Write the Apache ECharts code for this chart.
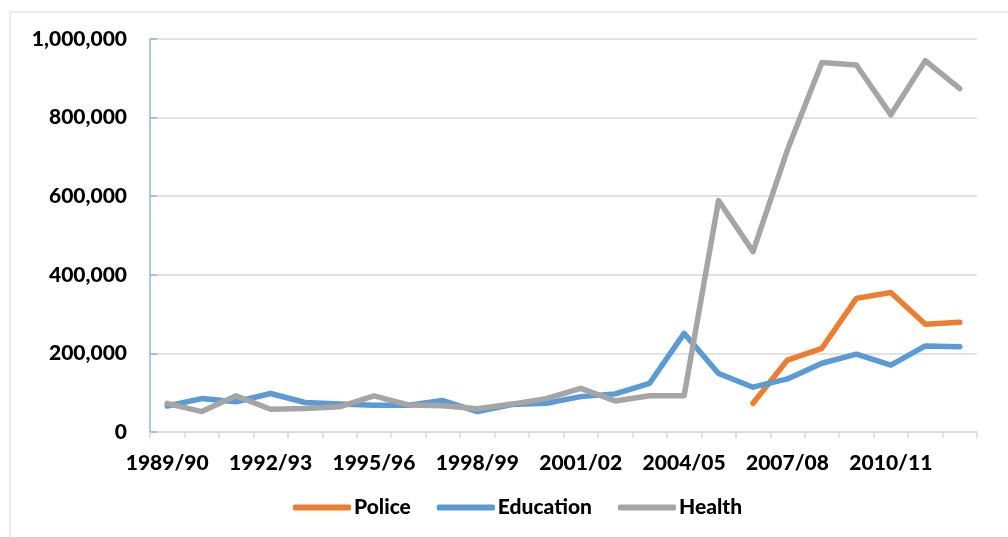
<!DOCTYPE html>
<html>
<head>
<meta charset="utf-8">
<script src="https://cdn.jsdelivr.net/npm/echarts@6/dist/echarts.min.js"></script>
<style>
html, body { margin: 0; padding: 0; background: #fff; }
#chart { width: 1008px; height: 537px; }
</style>
</head>
<body>
<div id="chart"></div>
<script>
// years
var years = ['1989/90', '1990/91', '1991/92', '1992/93', '1993/94', '1994/95', '1995/96', '1996/97',
    '1997/98', '1998/99', '1999/00', '2000/01', '2001/02', '2002/03', '2003/04', '2004/05',
    '2005/06', '2006/07', '2007/08', '2008/09', '2009/10', '2010/11', '2011/12', '2012/13'];

// series values
var police = [null, null, null, null, null, null, null, null, null, null, null, null,
    null, null, null, null, null, 73000, 183000, 213000, 340000, 355000, 274000, 279000];
var education = [66000, 85000, 77000, 98000, 75000, 71000, 68000, 68000, 80000, 52000, 70000, 73000,
    90000, 97000, 124000, 251000, 149000, 114000, 135000, 175000, 198000, 170000, 219000, 217000];
var health = [73000, 52000, 92000, 58000, 60000, 64000, 92000, 69000, 67000, 59000, 71000, 85000,
    111000, 79000, 92000, 92000, 589000, 459000, 718000, 940000, 934000, 807000, 945000, 874000];

var font = 'Lato';
var weight = 900;

var chart = echarts.init(document.getElementById('chart'));

function lineSeries(name, data, color) {
    return {
        name: name,
        type: 'line',
        data: data,
        showSymbol: false,
        symbol: 'none',
        lineStyle: { width: 5.5, color: color, cap: 'round', join: 'round' },
        itemStyle: { color: color },
        animation: false
    };
}

chart.setOption({
    animation: false,
    graphic: [{
        type: 'rect',
        shape: { x: 10, y: 12, width: 1020, height: 560 },
        style: { fill: 'none', stroke: '#d9d9d9', lineWidth: 1 },
        silent: true
    }],
    grid: { left: 150, right: 31, top: 39, bottom: 105 },
    legend: {
        left: 288,
        top: 492,
        itemWidth: 58,
        itemHeight: 6,
        itemGap: 26,
        icon: 'roundRect',
        textStyle: { fontFamily: font, fontWeight: weight, fontSize: 21, color: '#000', padding: [0, 0, 0, -2] },
        data: ['Police', 'Education', 'Health']
    },
    xAxis: {
        type: 'category',
        data: years,
        boundaryGap: true,
        axisLine: { lineStyle: { color: '#d9d9d9', width: 1.5 } },
        axisTick: { show: true, inside: false, length: 6, interval: 0, lineStyle: { color: '#d9d9d9', width: 1.5 } },
        axisLabel: { interval: 2, margin: 21, fontFamily: font, fontWeight: weight, fontSize: 21, color: '#000' },
        splitLine: { show: false }
    },
    yAxis: {
        type: 'value',
        min: 0,
        max: 1000000,
        interval: 200000,
        axisLine: { show: true, lineStyle: { color: '#8fb6e3', width: 1.5 } },
        axisTick: { show: true, inside: true, length: 7, lineStyle: { color: '#8fb6e3', width: 1.5 } },
        axisLabel: {
            margin: 23,
            fontFamily: font,
            fontWeight: weight,
            fontSize: 21,
            color: '#000',
            formatter: function (v) { return v.toLocaleString('en-US'); }
        },
        splitLine: { lineStyle: { color: '#d9d9d9', width: 1.5 } }
    },
    series: [
        lineSeries('Police', police, '#ed7d31'),
        lineSeries('Education', education, '#5b9bd5'),
        lineSeries('Health', health, '#a5a5a5')
    ]
});
</script>
</body>
</html>
